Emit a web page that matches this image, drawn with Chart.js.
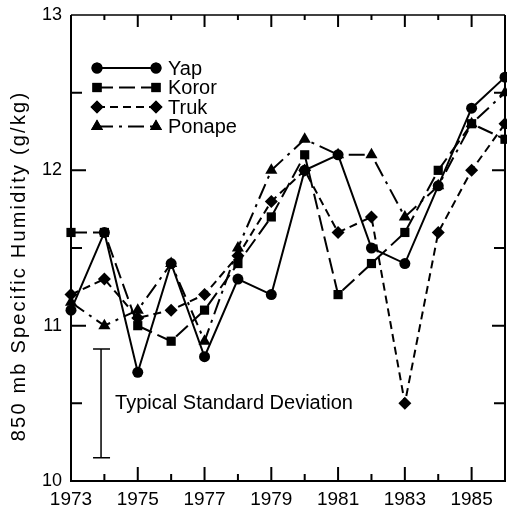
<!DOCTYPE html>
<html>
<head>
<meta charset="utf-8">
<script src="https://cdn.jsdelivr.net/npm/chart.js@4/dist/chart.umd.min.js"></script>
<style>
  html, body { margin: 0; padding: 0; background: #fff; }
  canvas { display: block; }
</style>
</head>
<body>
<canvas id="humidity" width="507" height="511"></canvas>
<script>
// annual 850 mb specific humidity (g/kg) at four western Pacific stations
const years = [1973, 1974, 1975, 1976, 1977, 1978, 1979, 1980, 1981, 1982, 1983, 1984, 1985, 1986];
const yap = [11.1, 11.6, 10.7, 11.4, 10.8, 11.3, 11.2, 12.0, 12.1, 11.5, 11.4, 11.9, 12.4, 12.6];
const koror = [11.6, 11.6, 11.0, 10.9, 11.1, 11.4, 11.7, 12.1, 11.2, 11.4, 11.6, 12.0, 12.3, 12.2];
const truk = [11.2, 11.3, 11.05, 11.1, 11.2, 11.45, 11.8, 12.0, 11.6, 11.7, 10.5, 11.6, 12.0, 12.3];
const ponape = [11.15, 11.0, 11.1, 11.4, 10.9, 11.5, 12.0, 12.2, 12.1, 12.1, 11.7, 11.9, 12.3, 12.5];

const yTicks = [10, 11, 12, 13];
const xLabelYears = [1973, 1975, 1977, 1979, 1981, 1983, 1985];

// typical standard deviation bar (g/kg)
const sdYear = 1973.9;
const sdCenter = 10.5;
const sdHalf = 0.35;

const FONT = "'Liberation Sans', Arial, Helvetica, sans-serif";

const series = [
  { label: "Yap", values: yap, dash: [], style: "circle", radius: 5.5 },
  { label: "Koror", values: koror, dash: [16, 6], style: "rect", radius: 6.5 },
  { label: "Truk", values: truk, dash: [8, 5], style: "rectRot", radius: 6.5 },
  { label: "Ponape", values: ponape, dash: [16, 6, 3, 6], style: "triangle", radius: 7 },
];

const datasets = series.map(s => ({
  label: s.label,
  data: years.map((yr, i) => ({ x: yr, y: s.values[i] })),
  borderColor: "#000",
  borderWidth: 2,
  borderDash: s.dash,
  pointStyle: s.style,
  pointRadius: s.radius,
  pointBackgroundColor: "#000",
  pointBorderColor: "#000",
  pointBorderWidth: 0,
  tension: 0,
  clip: false,
}));

function drawMarker(ctx, style, r, x, y) {
  Chart.helpers.drawPoint(ctx, { pointStyle: style, radius: r, borderWidth: 0 }, x, y);
  ctx.fill();
}

// box frame with inward ticks on all four sides
const framePlugin = {
  id: "frame",
  afterDraw(chart) {
    const { ctx, chartArea: a, scales } = chart;
    const xs = scales.x, ys = scales.y;
    ctx.save();
    ctx.strokeStyle = "#000";
    ctx.lineCap = "butt";

    ctx.lineWidth = 2;
    ctx.beginPath();
    ctx.moveTo(a.left, a.top);
    ctx.lineTo(a.left, a.bottom);
    ctx.lineTo(a.right, a.bottom);
    ctx.lineTo(a.right, a.top);
    ctx.stroke();
    ctx.lineWidth = 1.5;
    ctx.beginPath();
    ctx.moveTo(a.left, a.top);
    ctx.lineTo(a.right, a.top);
    ctx.stroke();

    ctx.lineWidth = 2;
    ctx.beginPath();
    for (let v = 10.5; v < 13; v += 0.5) {
      const y = ys.getPixelForValue(v);
      const major = Number.isInteger(v);
      ctx.moveTo(a.left, y);
      ctx.lineTo(a.left + (major ? 15 : 11), y);
      ctx.moveTo(a.right, y);
      ctx.lineTo(a.right - (major ? 13 : 11), y);
    }
    for (let yr = 1974; yr < 1986; yr++) {
      const x = xs.getPixelForValue(yr);
      const major = yr % 2 === 1;
      ctx.moveTo(x, a.bottom);
      ctx.lineTo(x, a.bottom - (major ? 14 : 7));
      ctx.moveTo(x, a.top);
      ctx.lineTo(x, a.top + (major ? 12 : 5));
    }
    ctx.stroke();

    // standard deviation bar
    const sx = xs.getPixelForValue(sdYear);
    const sTop = ys.getPixelForValue(sdCenter + sdHalf);
    const sBot = ys.getPixelForValue(sdCenter - sdHalf);
    ctx.lineWidth = 1.5;
    ctx.beginPath();
    ctx.moveTo(sx, sTop);
    ctx.lineTo(sx, sBot);
    ctx.moveTo(sx - 8, sTop);
    ctx.lineTo(sx + 9, sTop);
    ctx.moveTo(sx - 8, sBot);
    ctx.lineTo(sx + 9, sBot);
    ctx.stroke();

    ctx.fillStyle = "#000";
    ctx.font = "20px " + FONT;
    ctx.textBaseline = "middle";
    ctx.textAlign = "left";
    ctx.fillText("Typical Standard Deviation", sx + 14, ys.getPixelForValue(sdCenter));

    // legend
    const lx0 = 97, lx1 = 156, ly0 = 68, step = 19.5;
    chart.data.datasets.forEach((ds, i) => {
      const y = ly0 + i * step;
      ctx.lineWidth = 2;
      ctx.setLineDash(ds.borderDash);
      ctx.beginPath();
      ctx.moveTo(lx0, y);
      ctx.lineTo(lx1, y);
      ctx.stroke();
      ctx.setLineDash([]);
      drawMarker(ctx, ds.pointStyle, ds.pointRadius, lx0, y);
      drawMarker(ctx, ds.pointStyle, ds.pointRadius, lx1, y);
      ctx.font = "20px " + FONT;
      ctx.fillText(ds.label, 168, y + 1);
    });

    // y axis title
    ctx.save();
    ctx.translate(19, 266);
    ctx.rotate(-Math.PI / 2);
    ctx.textAlign = "center";
    ctx.font = "20px " + FONT;
    ctx.letterSpacing = "2.2px";
    ctx.fillText("850 mb Specific Humidity (g/kg)", 0, 0);
    ctx.restore();

    ctx.restore();
  },
};

new Chart(document.getElementById("humidity").getContext("2d"), {
  type: "line",
  data: { datasets },
  options: {
    responsive: false,
    animation: false,
    devicePixelRatio: 1,
    layout: { autoPadding: false, padding: { left: 0, right: 2, top: 15, bottom: 0 } },
    plugins: { legend: { display: false }, tooltip: { enabled: false } },
    scales: {
      x: {
        type: "linear",
        min: 1973,
        max: 1986,
        grid: { display: false, drawTicks: false },
        border: { display: false },
        afterFit: s => {
          s.height = 30;
          s.paddingLeft = 0;
          s.paddingRight = 0;
        },
        ticks: {
          stepSize: 1,
          autoSkip: false,
          maxRotation: 0,
          padding: 7,
          color: "#000",
          font: { family: FONT, size: 19 },
          callback: v => (xLabelYears.includes(v) ? String(v) : ""),
        },
      },
      y: {
        min: 10,
        max: 13,
        grid: { display: false, drawTicks: false },
        border: { display: false },
        afterFit: s => {
          s.width = 71;
          s.paddingTop = 0;
          s.paddingBottom = 0;
        },
        ticks: {
          stepSize: 1,
          padding: 9,
          color: "#000",
          font: { family: FONT, size: 18 },
          callback: v => (yTicks.includes(v) ? String(v) : ""),
        },
      },
    },
  },
  plugins: [framePlugin],
});
</script>
</body>
</html>
